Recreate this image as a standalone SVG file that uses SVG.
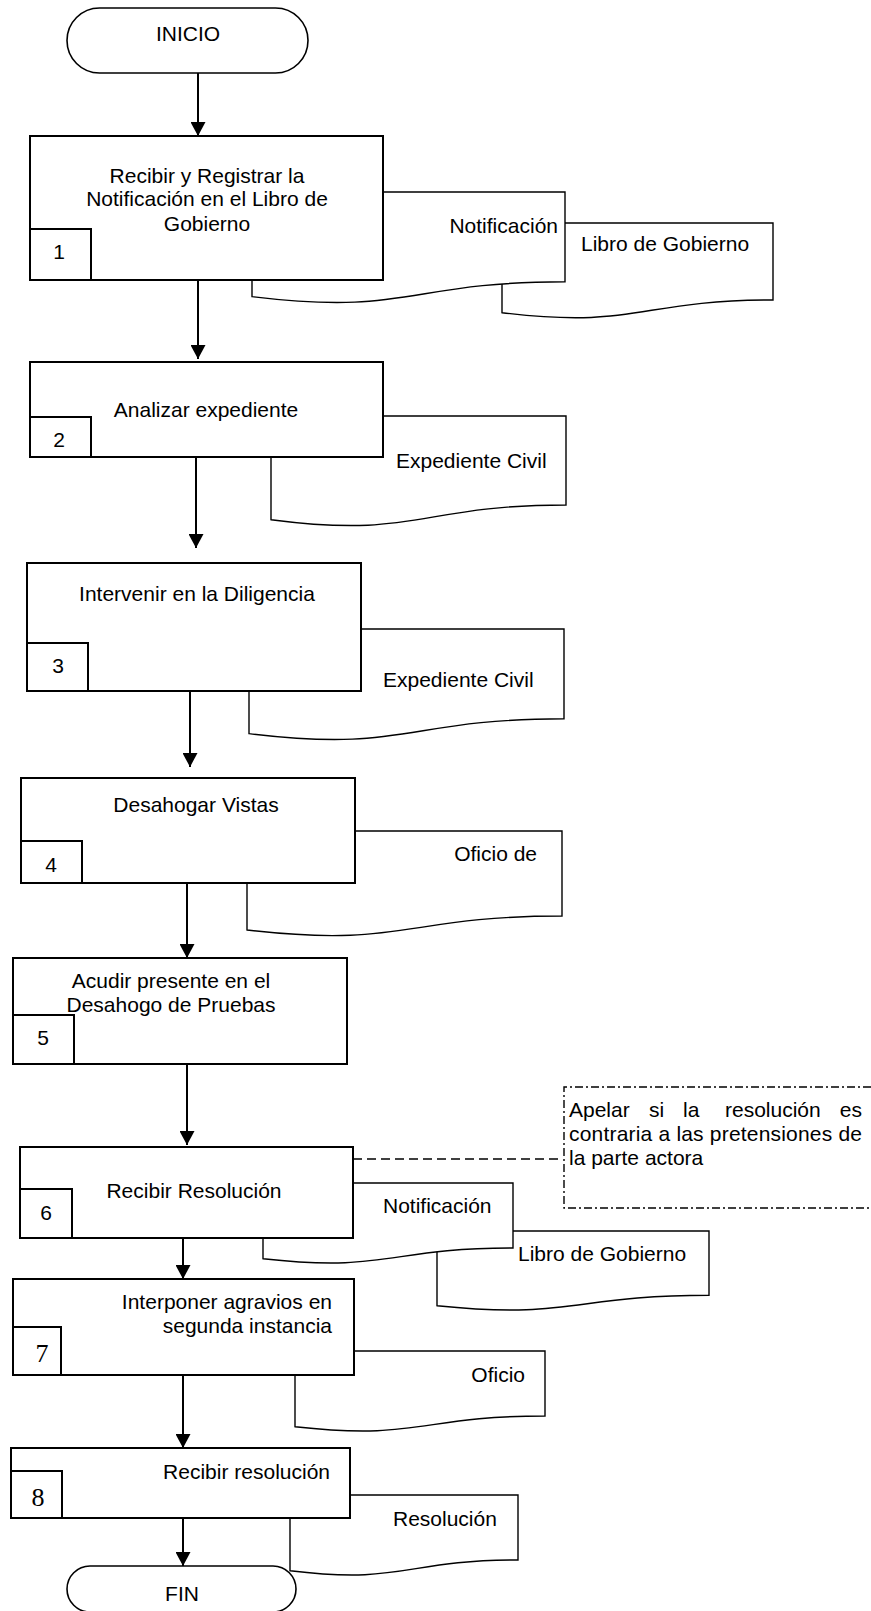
<svg xmlns="http://www.w3.org/2000/svg" width="871" height="1611" viewBox="0 0 871 1611">
<style>
  text { font-family: "Liberation Sans", Arial, sans-serif; font-size: 21px; fill: #000; }
  .c { text-anchor: middle; }
  .e { text-anchor: end; }
  .num { font-family: "Liberation Serif", "Times New Roman", serif; font-size: 26px; text-anchor: middle; }
  .box { fill: #fff; stroke: #000; stroke-width: 2; }
  .doc { fill: #fff; stroke: #000; stroke-width: 1.4; }
  .term { fill: #fff; stroke: #000; stroke-width: 1.6; }
  .flow { stroke: #000; stroke-width: 2; fill: none; }
  .dash { stroke: #000; stroke-width: 1.4; fill: none; stroke-dasharray: 9 5; }
  .dashdot { stroke: #000; stroke-width: 1.4; fill: none; stroke-dasharray: 8 3 2 3; }
</style>
<defs>
  <marker id="arr" markerUnits="userSpaceOnUse" markerWidth="15" markerHeight="15" refX="14" refY="7.5" orient="auto">
    <path d="M0,0 L14,7.5 L0,15 Z" fill="#000"/>
  </marker>
</defs>

<g id="inicio">
  <rect class="term" x="67" y="8" width="241" height="65" rx="32.5" ry="32.5"/>
  <text class="c" x="188" y="40.5">INICIO</text>
</g>

<g id="paso1">
  <path id="doc1b" class="doc" d="M502,223 H773 V300 C637.5,300 637.5,329.3 502,312.7 Z"/>
  <text x="581" y="251">Libro de Gobierno</text>
  <path id="doc1a" class="doc" d="M252,192 H565 V281.8 C408.5,281.8 408.5,316 252,296.6 Z"/>
  <text class="e" x="558" y="233">Notificación</text>
  <rect class="box" x="30" y="136" width="353" height="144"/>
  <rect class="box" x="30" y="229" width="61" height="51"/>
  <text class="c" x="207" y="182.5">Recibir y Registrar la</text>
  <text class="c" x="207" y="206">Notificación en el Libro de</text>
  <text class="c" x="207" y="230.5">Gobierno</text>
  <text class="c" x="59" y="259">1</text>
</g>

<g id="paso2">
  <path class="doc" d="M271,416 H566 V505 C418.5,505 418.5,538.9 271,519.7 Z"/>
  <text x="396" y="468">Expediente Civil</text>
  <rect class="box" x="30" y="362" width="353" height="95"/>
  <rect class="box" x="30" y="417" width="61" height="40"/>
  <text class="c" x="206" y="416.5">Analizar expediente</text>
  <text class="c" x="59" y="446.5">2</text>
</g>

<g id="paso3">
  <path class="doc" d="M249,629 H564 V718.8 C406.5,718.8 406.5,753 249,733.6 Z"/>
  <text x="383" y="687">Expediente Civil</text>
  <rect class="box" x="27" y="563" width="334" height="128"/>
  <rect class="box" x="27" y="643" width="61" height="48"/>
  <text class="c" x="197" y="600.5">Intervenir en la Diligencia</text>
  <text class="c" x="58" y="673">3</text>
</g>

<g id="paso4">
  <path class="doc" d="M247,831 H562 V916 C404.5,916 404.5,948.3 247,930 Z"/>
  <text class="e" x="537" y="861">Oficio de</text>
  <rect class="box" x="21" y="778" width="334" height="105"/>
  <rect class="box" x="21" y="841" width="61" height="42"/>
  <text class="c" x="196" y="812">Desahogar Vistas</text>
  <text class="c" x="51" y="872">4</text>
</g>

<g id="paso5">
  <rect class="box" x="13" y="958" width="334" height="106"/>
  <rect class="box" x="13" y="1015" width="61" height="49"/>
  <text class="c" x="171" y="988">Acudir presente en el</text>
  <text class="c" x="171" y="1012">Desahogo de Pruebas</text>
  <text class="c" x="43" y="1045">5</text>
</g>

<g id="paso6">
  <path class="doc" d="M437,1231 H709 V1295.2 C573,1295.2 573,1319.6 437,1305.7 Z"/>
  <text x="518" y="1261">Libro de Gobierno</text>
  <path class="doc" d="M263,1183 H513 V1248 C388,1248 388,1272.7 263,1258.7 Z"/>
  <text x="383" y="1213">Notificación</text>
  <rect class="box" x="20" y="1147" width="333" height="91"/>
  <rect class="box" x="20" y="1189" width="52" height="49"/>
  <text class="c" x="194" y="1198">Recibir Resolución</text>
  <text class="c" x="46" y="1220">6</text>
</g>

<g id="nota">
  <path class="dashdot" d="M871,1087 H564 V1208 H871"/>
  <text x="569" y="1117">Apelar</text>
  <text x="649" y="1117">si</text>
  <text x="683" y="1117">la</text>
  <text x="725" y="1117">resolución</text>
  <text class="e" x="862" y="1117">es</text>
  <text x="569" y="1141" textLength="293" lengthAdjust="spacing">contraria a las pretensiones de</text>
  <text x="569" y="1165">la parte actora</text>
</g>

<g id="paso7">
  <path class="doc" d="M295,1351 H545 V1416 C420,1416 420,1440.7 295,1426.7 Z"/>
  <text class="e" x="525" y="1382">Oficio</text>
  <rect class="box" x="13" y="1279" width="341" height="96"/>
  <rect class="box" x="13" y="1327" width="48" height="48"/>
  <text class="e" x="332" y="1309">Interponer agravios en</text>
  <text class="e" x="332" y="1333">segunda instancia</text>
  <text class="num" x="42" y="1362">7</text>
</g>

<g id="paso8">
  <path class="doc" d="M290,1495 H518 V1560 C404,1560 404,1584.7 290,1570.7 Z"/>
  <text x="393" y="1526">Resolución</text>
  <rect class="box" x="11" y="1448" width="339" height="70"/>
  <rect class="box" x="11" y="1471" width="51" height="47"/>
  <text class="e" x="330" y="1479">Recibir resolución</text>
  <text class="num" x="38" y="1506">8</text>
</g>

<g id="fin">
  <rect class="term" x="67" y="1566" width="229" height="46" rx="23" ry="23"/>
  <text class="c" x="182" y="1601">FIN</text>
</g>

<g id="conectores">
  <line class="flow" x1="198" y1="73" x2="198" y2="136" marker-end="url(#arr)"/>
  <line class="flow" x1="198" y1="280" x2="198" y2="359" marker-end="url(#arr)"/>
  <line class="flow" x1="196" y1="457" x2="196" y2="548" marker-end="url(#arr)"/>
  <line class="flow" x1="190" y1="691" x2="190" y2="767" marker-end="url(#arr)"/>
  <line class="flow" x1="187" y1="883" x2="187" y2="958" marker-end="url(#arr)"/>
  <line class="flow" x1="187" y1="1064" x2="187" y2="1145" marker-end="url(#arr)"/>
  <line class="flow" x1="183" y1="1238" x2="183" y2="1279" marker-end="url(#arr)"/>
  <line class="flow" x1="183" y1="1375" x2="183" y2="1448" marker-end="url(#arr)"/>
  <line class="flow" x1="183" y1="1518" x2="183" y2="1566" marker-end="url(#arr)"/>
  <line class="dash" x1="353" y1="1159" x2="559" y2="1159"/>
</g>
</svg>
